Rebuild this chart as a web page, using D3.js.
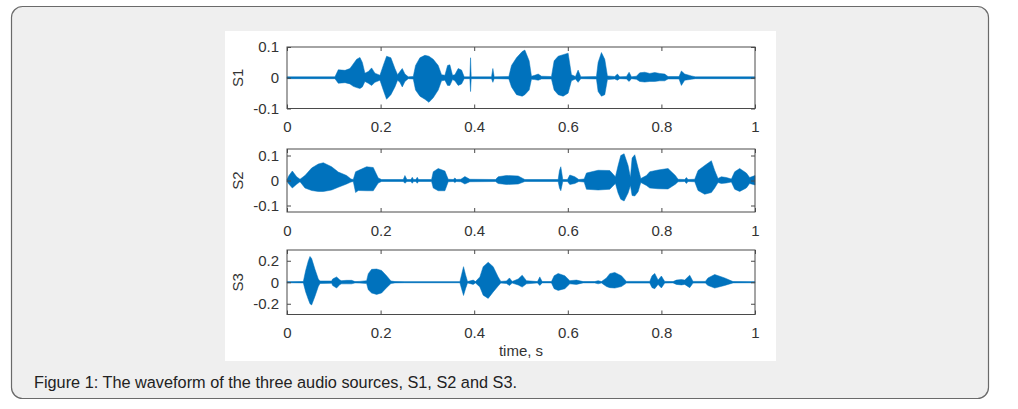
<!DOCTYPE html>
<html lang="en">
<head>
    <meta charset="UTF-8">
    <title>Figure 1: waveform of the three audio sources</title>
    <style>
        body {
            margin: 0;
            padding: 0;
            background: #fff;
            font-family: 'Liberation Sans', Arial, sans-serif;
        }
        .tick text { fill: #333; }
    </style>
</head>
<body>
    <svg id="fig" width="1018" height="409"></svg>

    <script src="https://d3js.org/d3.v7.min.js"></script>
    <script>
        // envelope of each waveform: [time s, upper, lower]
        const s1Envelope = [
            [0, 0.003, -0.003], [0.1025, 0.003, -0.003], [0.1096, 0.026, -0.018], [0.124, 0.024, -0.016],
            [0.1345, 0.03, -0.02], [0.1416, 0.045, -0.028], [0.1488, 0.06, -0.032], [0.1559, 0.066, -0.035],
            [0.161, 0.05, -0.03], [0.1665, 0.015, -0.012], [0.1737, 0.02, -0.018], [0.1808, 0.032, -0.025],
            [0.1879, 0.015, -0.015], [0.1986, 0.008, -0.008], [0.2057, 0.04, -0.04], [0.2128, 0.07, -0.07],
            [0.222, 0.065, -0.055], [0.2306, 0.03, -0.03], [0.2363, 0.01, -0.008], [0.2413, 0.02, -0.015],
            [0.2463, 0.03, -0.03], [0.252, 0.012, -0.012], [0.2591, 0.003, -0.003], [0.2698, 0.004, -0.004],
            [0.2747, 0.04, -0.04], [0.284, 0.065, -0.06], [0.2947, 0.073, -0.07], [0.3032, 0.07, -0.08],
            [0.3125, 0.06, -0.065], [0.3231, 0.04, -0.04], [0.3302, 0.01, -0.01], [0.3374, 0.008, -0.008],
            [0.3431, 0.04, -0.025], [0.348, 0.042, -0.025], [0.3537, 0.008, -0.006], [0.3587, 0.01, -0.01],
            [0.3658, 0.03, -0.025], [0.373, 0.025, -0.02], [0.3786, 0.003, -0.003], [0.3907, 0.003, -0.003],
            [0.3922, 0.065, -0.045], [0.3936, 0.003, -0.003], [0.437, 0.003, -0.003], [0.4399, 0.03, -0.015],
            [0.4427, 0.003, -0.003], [0.474, 0.004, -0.004], [0.4797, 0.04, -0.03], [0.4904, 0.065, -0.055],
            [0.5025, 0.085, -0.06], [0.5082, 0.09, -0.055], [0.5174, 0.055, -0.04], [0.5224, 0.005, -0.005],
            [0.5295, 0.008, -0.006], [0.5367, 0.012, -0.008], [0.5438, 0.005, -0.004], [0.5651, 0.004, -0.004],
            [0.5708, 0.055, -0.04], [0.5794, 0.07, -0.055], [0.59, 0.075, -0.06], [0.6007, 0.08, -0.05],
            [0.6078, 0.01, -0.01], [0.6164, 0.004, -0.004], [0.622, 0.025, -0.015], [0.6278, 0.003, -0.003],
            [0.6612, 0.004, -0.004], [0.6648, 0.05, -0.045], [0.6719, 0.082, -0.06], [0.679, 0.06, -0.055],
            [0.6847, 0.006, -0.006], [0.7004, 0.004, -0.004], [0.706, 0.012, -0.008], [0.711, 0.003, -0.003],
            [0.7253, 0.004, -0.004], [0.731, 0.018, -0.012], [0.736, 0.003, -0.003], [0.7466, 0.005, -0.005],
            [0.7537, 0.016, -0.012], [0.7644, 0.018, -0.014], [0.7751, 0.014, -0.012], [0.7858, 0.017, -0.012],
            [0.7964, 0.014, -0.01], [0.8071, 0.012, -0.01], [0.8142, 0.004, -0.004], [0.8377, 0.004, -0.004],
            [0.8427, 0.022, -0.025], [0.8498, 0.012, -0.008], [0.8641, 0.006, -0.005], [0.8726, 0.003, -0.003],
            [1, 0.003, -0.003]
        ];

        const s2Envelope = [
            [0, 0.004, -0.004], [0.0043, 0.02, -0.015], [0.0114, 0.038, -0.03], [0.0206, 0.015, -0.015],
            [0.0278, 0.005, -0.005], [0.0384, 0.02, -0.03], [0.0527, 0.05, -0.04], [0.0669, 0.066, -0.044],
            [0.0776, 0.071, -0.044], [0.0954, 0.055, -0.038], [0.1096, 0.034, -0.027], [0.1274, 0.02, -0.014],
            [0.1367, 0.006, -0.006], [0.1416, 0.004, -0.004], [0.1466, 0.035, -0.048], [0.1523, 0.04, -0.04],
            [0.1701, 0.055, -0.041], [0.1843, 0.052, -0.041], [0.195, 0.01, -0.01], [0.2021, 0.004, -0.004],
            [0.2484, 0.004, -0.004], [0.252, 0.02, -0.011], [0.2562, 0.004, -0.004], [0.2648, 0.004, -0.004],
            [0.2676, 0.013, -0.011], [0.2705, 0.004, -0.004], [0.2754, 0.004, -0.004], [0.2783, 0.013, -0.011],
            [0.2811, 0.004, -0.004], [0.3089, 0.004, -0.004], [0.3125, 0.035, -0.03], [0.3231, 0.048, -0.041],
            [0.3374, 0.038, -0.041], [0.3445, 0.005, -0.005], [0.3552, 0.004, -0.004], [0.3587, 0.01, -0.008],
            [0.3623, 0.004, -0.004], [0.3715, 0.005, -0.005], [0.3801, 0.016, -0.014], [0.3907, 0.005, -0.005],
            [0.4456, 0.004, -0.004], [0.4512, 0.015, -0.012], [0.469, 0.02, -0.016], [0.494, 0.018, -0.014],
            [0.5082, 0.004, -0.004], [0.5794, 0.004, -0.004], [0.5822, 0.04, -0.03], [0.5851, 0.055, -0.041],
            [0.5893, 0.004, -0.004], [0.5993, 0.004, -0.004], [0.6043, 0.022, -0.016], [0.615, 0.015, -0.012],
            [0.6235, 0.004, -0.004], [0.6349, 0.006, -0.006], [0.6399, 0.03, -0.035], [0.6648, 0.041, -0.038],
            [0.6897, 0.04, -0.035], [0.7018, 0.015, -0.012], [0.7075, 0.06, -0.05], [0.7132, 0.1, -0.075],
            [0.7203, 0.107, -0.082], [0.7288, 0.06, -0.05], [0.7338, 0.012, -0.02], [0.7374, 0.09, -0.06],
            [0.7431, 0.103, -0.062], [0.7502, 0.05, -0.045], [0.756, 0.008, -0.008], [0.768, 0.02, -0.02],
            [0.7751, 0.035, -0.03], [0.7929, 0.042, -0.033], [0.8142, 0.048, -0.034], [0.8299, 0.02, -0.015],
            [0.8356, 0.005, -0.005], [0.8498, 0.004, -0.004], [0.8534, 0.012, -0.012], [0.8569, 0.004, -0.004],
            [0.8712, 0.005, -0.005], [0.8783, 0.04, -0.04], [0.8925, 0.06, -0.055], [0.9068, 0.079, -0.048],
            [0.9139, 0.04, -0.03], [0.921, 0.008, -0.008], [0.9281, 0.015, -0.012], [0.9388, 0.012, -0.01],
            [0.9495, 0.006, -0.006], [0.9566, 0.035, -0.035], [0.9673, 0.048, -0.044], [0.9815, 0.03, -0.03],
            [0.9886, 0.012, -0.012], [1, 0.02, -0.018]
        ];

        const s3Envelope = [
            [0, 0.005, -0.005], [0.0349, 0.006, -0.006], [0.0399, 0.11, -0.09], [0.0456, 0.2, -0.16],
            [0.0491, 0.24, -0.2], [0.0527, 0.22, -0.211], [0.0598, 0.12, -0.13], [0.0669, 0.03, -0.04],
            [0.0705, 0.012, -0.012], [0.0954, 0.012, -0.01], [0.0975, 0.03, -0.03], [0.106, 0.05, -0.054],
            [0.1132, 0.02, -0.02], [0.1167, 0.015, -0.015], [0.1274, 0.018, -0.015], [0.1381, 0.018, -0.015],
            [0.1452, 0.006, -0.006], [0.1559, 0.008, -0.008], [0.1701, 0.015, -0.012], [0.1737, 0.08, -0.07],
            [0.1808, 0.12, -0.1], [0.1915, 0.123, -0.113], [0.2021, 0.11, -0.1], [0.2128, 0.06, -0.05],
            [0.2221, 0.012, -0.012], [0.2306, 0.006, -0.006], [0.252, 0.005, -0.005], [0.3694, 0.005, -0.005],
            [0.373, 0.07, -0.06], [0.3772, 0.145, -0.123], [0.3815, 0.07, -0.06], [0.3858, 0.006, -0.006],
            [0.3979, 0.02, -0.02], [0.4028, 0.006, -0.006], [0.4121, 0.05, -0.044], [0.4192, 0.145, -0.12],
            [0.4299, 0.186, -0.15], [0.4406, 0.145, -0.09], [0.4512, 0.05, -0.035], [0.4569, 0.008, -0.008],
            [0.469, 0.012, -0.012], [0.4754, 0.04, -0.03], [0.4811, 0.008, -0.008], [0.494, 0.03, -0.025],
            [0.5025, 0.066, -0.045], [0.5117, 0.015, -0.015], [0.5352, 0.006, -0.006], [0.5402, 0.05, -0.03],
            [0.5452, 0.006, -0.006], [0.5651, 0.006, -0.006], [0.5708, 0.06, -0.06], [0.5794, 0.082, -0.076],
            [0.5937, 0.06, -0.06], [0.6043, 0.015, -0.015], [0.6185, 0.02, -0.02], [0.6327, 0.006, -0.006],
            [0.6577, 0.006, -0.006], [0.6648, 0.015, -0.015], [0.6719, 0.006, -0.006], [0.6826, 0.04, -0.04],
            [0.6897, 0.08, -0.05], [0.7004, 0.091, -0.054], [0.7146, 0.06, -0.04], [0.7253, 0.008, -0.008],
            [0.7751, 0.008, -0.008], [0.78, 0.06, -0.05], [0.7858, 0.082, -0.06], [0.7929, 0.02, -0.02],
            [0.8, 0.058, -0.053], [0.8071, 0.008, -0.008], [0.8249, 0.006, -0.006], [0.832, 0.02, -0.02],
            [0.8427, 0.025, -0.025], [0.8498, 0.02, -0.02], [0.8605, 0.066, -0.05], [0.8676, 0.008, -0.008],
            [0.8939, 0.008, -0.008], [0.8996, 0.04, -0.03], [0.9139, 0.072, -0.054], [0.9352, 0.04, -0.03],
            [0.953, 0.006, -0.006], [1, 0.005, -0.005]
        ];

        const panelNames = ["S1", "S2", "S3"];
        const xTicks = [0, 0.2, 0.4, 0.6, 0.8, 1];
        const yTicks = [[-0.1, 0, 0.1], [-0.1, 0, 0.1], [-0.2, 0, 0.2]];
        const yLimits = [[-0.1, 0.1], [-0.126, 0.126], [-0.3, 0.3]];
        const xLabel = "time, s";
        const caption = "Figure 1: The waveform of the three audio sources, S1, S2 and S3.";

        const envelopes = [s1Envelope, s2Envelope, s3Envelope];
        const panelBox = [[47, 108.5], [149, 212], [250, 314.5]];   // top, bottom in px
        const blue = "#0072BD";
        const labelSize = "15px";

        const svg = d3.select("#fig");

        // outer frame of the figure block
        svg.append("rect")
            .attr("x", 11.5).attr("y", 6.5)
            .attr("width", 977).attr("height", 392)
            .attr("rx", 11).attr("ry", 11)
            .attr("fill", "#efefef")
            .attr("stroke", "#6a6a6a")
            .attr("stroke-width", 1.2);

        // white picture area
        svg.append("rect")
            .attr("x", 225).attr("y", 31)
            .attr("width", 551).attr("height", 330)
            .attr("fill", "#fff");

        const x = d3.scaleLinear().domain([0, 1]).range([287, 755]);

        envelopes.forEach((env, i) => {
            const [top, bottom] = panelBox[i];
            const y = d3.scaleLinear().domain(yLimits[i]).range([bottom, top]);
            const g = svg.append("g");

            // faint noise floor
            g.append("path")
                .datum(env)
                .attr("d", d3.line().x(d => x(d[0])).y(() => y(0)))
                .attr("stroke", blue)
                .attr("stroke-opacity", 0.5)
                .attr("stroke-width", 1.3)
                .attr("fill", "none");

            g.append("path")
                .datum(env)
                .attr("d", d3.area()
                    .x(d => x(d[0]))
                    .y0(d => y(d[2]))
                    .y1(d => y(d[1])))
                .attr("fill", blue)
                .attr("stroke", blue)
                .attr("stroke-width", 0.5);

            // box
            g.append("rect")
                .attr("x", x(0)).attr("y", top)
                .attr("width", x(1) - x(0)).attr("height", bottom - top)
                .attr("fill", "none")
                .attr("stroke", "#4a4a4a")
                .attr("stroke-width", 1);

            const fmt = d => d === 0 ? "0" : String(d);

            const bx = g.append("g")
                .attr("transform", `translate(0,${bottom})`)
                .call(d3.axisBottom(x).tickValues(xTicks).tickFormat(fmt)
                    .tickSizeInner(-4).tickSizeOuter(0).tickPadding(13));
            const tx = g.append("g")
                .attr("transform", `translate(0,${top})`)
                .call(d3.axisTop(x).tickValues(xTicks).tickFormat("")
                    .tickSizeInner(-4).tickSizeOuter(0));
            const ly = g.append("g")
                .attr("transform", `translate(${x(0)},0)`)
                .call(d3.axisLeft(y).tickValues(yTicks[i]).tickFormat(fmt)
                    .tickSizeInner(-4).tickSizeOuter(0).tickPadding(8));
            const ry = g.append("g")
                .attr("transform", `translate(${x(1)},0)`)
                .call(d3.axisRight(y).tickValues(yTicks[i]).tickFormat("")
                    .tickSizeInner(-4).tickSizeOuter(0));

            [bx, tx, ly, ry].forEach(a => {
                a.select(".domain").remove();
                a.selectAll("line").attr("stroke", "#4a4a4a");
                a.selectAll("text")
                    .style("font-family", "'Liberation Sans', Arial, sans-serif")
                    .style("font-size", labelSize);
            });

            g.append("text")
                .attr("transform", `translate(243,${(top + bottom) / 2}) rotate(-90)`)
                .attr("text-anchor", "middle")
                .attr("fill", "#333")
                .style("font-size", labelSize)
                .text(panelNames[i]);
        });

        svg.append("text")
            .attr("x", (x(0) + x(1)) / 2)
            .attr("y", 356)
            .attr("text-anchor", "middle")
            .attr("fill", "#333")
            .style("font-size", labelSize)
            .text(xLabel);

        svg.append("text")
            .attr("x", 34)
            .attr("y", 388)
            .attr("fill", "#222")
            .style("font-size", "16.3px")
            .text(caption);
    </script>
</body>
</html>
